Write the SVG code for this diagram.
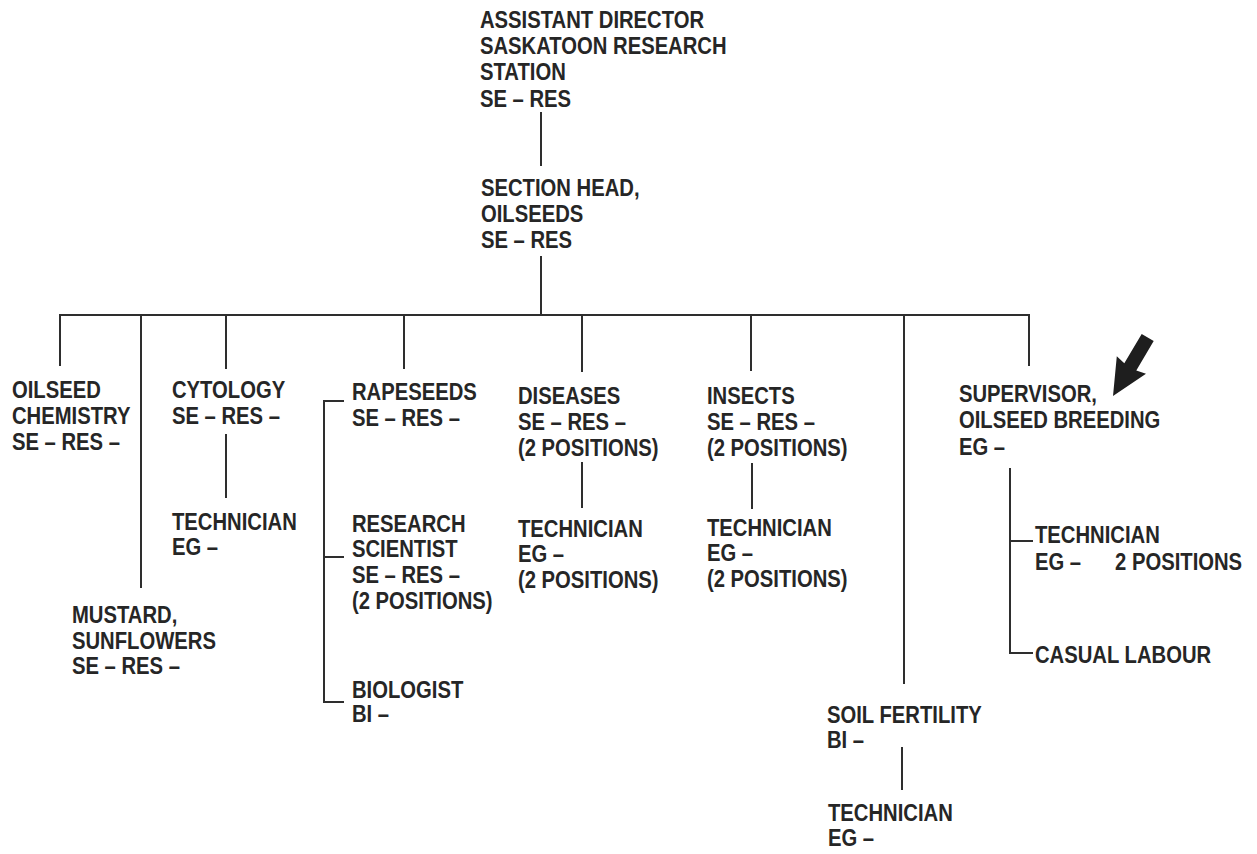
<svg xmlns="http://www.w3.org/2000/svg" width="1257" height="854" viewBox="0 0 1257 854">
  <style>
    text { font-family: "Liberation Sans", Arial, sans-serif; font-size: 23px; font-weight: bold; fill: #262626; }
    .wire { stroke: #2e2e2e; stroke-width: 2; fill: none; stroke-linecap: square; }
  </style>
  <rect width="1257" height="854" fill="#ffffff"/>

  <!-- connectors -->
  <g id="connectors" class="wire">
    <path d="M541 113 V165"/>
    <path d="M541 257 V315"/>
    <path d="M60 315 H1029"/>
    <path d="M60 315 V365"/>
    <path d="M141 315 V587"/>
    <path d="M226 315 V368"/>
    <path d="M404 315 V368"/>
    <path d="M582 315 V371"/>
    <path d="M751 315 V370"/>
    <path d="M904 315 V683"/>
    <path d="M1029 315 V365"/>
    <!-- cytology to technician -->
    <path d="M226 435 V497"/>
    <!-- rapeseeds bracket -->
    <path d="M343 401 H324 V702 H343"/>
    <path d="M324 557 H343"/>
    <!-- diseases / insects to technicians -->
    <path d="M582 463 V507"/>
    <path d="M752 464 V508"/>
    <!-- soil fertility to technician -->
    <path d="M902 748 V789"/>
    <!-- supervisor bracket -->
    <path d="M1010 469 V653 H1032"/>
    <path d="M1010 541 H1032"/>
  </g>

  <!-- pointer arrow -->
  <polygon id="pointer" fill="#1e1e1e" points="1113,396 1116.8,356.3 1124.3,363.2 1141.7,333.9 1153.7,341.1 1136.3,370.4 1146,373.7"/>

  <g id="assistant-director" transform="translate(480,0) scale(0.88,1)">
    <text x="0" y="28">ASSISTANT DIRECTOR</text>
    <text x="0" y="54">SASKATOON RESEARCH</text>
    <text x="0" y="80.5">STATION</text>
    <text x="0" y="107">SE – RES</text>
  </g>

  <g id="section-head" transform="translate(481,0) scale(0.88,1)">
    <text x="0" y="196">SECTION HEAD,</text>
    <text x="0" y="222">OILSEEDS</text>
    <text x="0" y="248">SE – RES</text>
  </g>

  <g id="oilseed-chemistry" transform="translate(12,0) scale(0.88,1)">
    <text x="0" y="398">OILSEED</text>
    <text x="0" y="424">CHEMISTRY</text>
    <text x="0" y="450">SE – RES –</text>
  </g>

  <g id="mustard" transform="translate(72,0) scale(0.88,1)">
    <text x="0" y="623">MUSTARD,</text>
    <text x="0" y="649">SUNFLOWERS</text>
    <text x="0" y="674">SE – RES –</text>
  </g>

  <g id="cytology" transform="translate(172,0) scale(0.88,1)">
    <text x="0" y="398">CYTOLOGY</text>
    <text x="0" y="424">SE – RES –</text>
  </g>

  <g id="cytology-technician" transform="translate(172,0) scale(0.88,1)">
    <text x="0" y="530">TECHNICIAN</text>
    <text x="0" y="555">EG –</text>
  </g>

  <g id="rapeseeds" transform="translate(352,0) scale(0.88,1)">
    <text x="0" y="400">RAPESEEDS</text>
    <text x="0" y="426">SE – RES –</text>
  </g>

  <g id="research-scientist" transform="translate(352,0) scale(0.88,1)">
    <text x="0" y="532">RESEARCH</text>
    <text x="0" y="557">SCIENTIST</text>
    <text x="0" y="583">SE – RES –</text>
    <text x="0" y="609">(2 POSITIONS)</text>
  </g>

  <g id="biologist" transform="translate(352,0) scale(0.88,1)">
    <text x="0" y="698">BIOLOGIST</text>
    <text x="0" y="722">BI –</text>
  </g>

  <g id="diseases" transform="translate(518,0) scale(0.88,1)">
    <text x="0" y="404">DISEASES</text>
    <text x="0" y="430">SE – RES –</text>
    <text x="0" y="456">(2 POSITIONS)</text>
  </g>

  <g id="diseases-technician" transform="translate(518,0) scale(0.88,1)">
    <text x="0" y="537">TECHNICIAN</text>
    <text x="0" y="562">EG –</text>
    <text x="0" y="588">(2 POSITIONS)</text>
  </g>

  <g id="insects" transform="translate(707,0) scale(0.88,1)">
    <text x="0" y="404">INSECTS</text>
    <text x="0" y="430">SE – RES –</text>
    <text x="0" y="456">(2 POSITIONS)</text>
  </g>

  <g id="insects-technician" transform="translate(707,0) scale(0.88,1)">
    <text x="0" y="536">TECHNICIAN</text>
    <text x="0" y="561">EG –</text>
    <text x="0" y="587">(2 POSITIONS)</text>
  </g>

  <g id="soil-fertility" transform="translate(827,0) scale(0.88,1)">
    <text x="0" y="723">SOIL FERTILITY</text>
    <text x="0" y="748">BI –</text>
  </g>

  <g id="soil-technician" transform="translate(828,0) scale(0.88,1)">
    <text x="0" y="821">TECHNICIAN</text>
    <text x="0" y="846">EG –</text>
  </g>

  <g id="supervisor" transform="translate(959,0) scale(0.88,1)">
    <text x="0" y="402">SUPERVISOR,</text>
    <text x="0" y="428">OILSEED BREEDING</text>
    <text x="0" y="455">EG –</text>
  </g>

  <g id="breeding-technician" transform="translate(1035,0) scale(0.88,1)">
    <text x="0" y="543">TECHNICIAN</text>
    <text x="0" y="570">EG –</text>
    <text x="91" y="570">2 POSITIONS</text>
  </g>

  <g id="casual-labour" transform="translate(1035,0) scale(0.88,1)">
    <text x="0" y="663">CASUAL LABOUR</text>
  </g>
</svg>
